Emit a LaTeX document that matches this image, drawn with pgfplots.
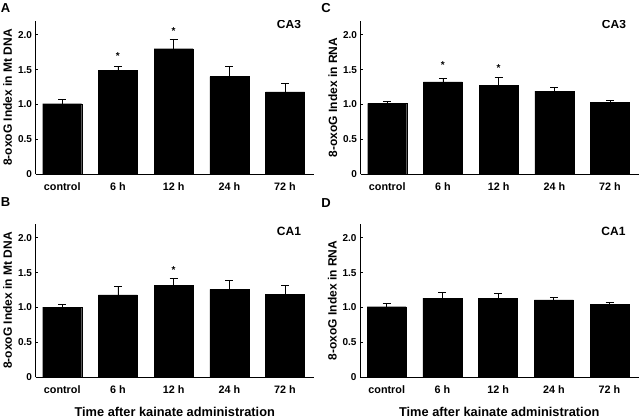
\documentclass[border=0pt]{standalone}
\usepackage{fontspec}
\setmainfont{Liberation Sans}
\usepackage{pgfplots}
\pgfplotsset{compat=1.18}

\newcommand{\tf}{\bfseries\fontsize{10bp}{12bp}\selectfont}
\newcommand{\xf}{\bfseries\fontsize{10.8bp}{12bp}\selectfont}
\newcommand{\lf}{\bfseries\fontsize{12bp}{14bp}\selectfont}

\pgfplotsset{
  panel/.style={
    anchor=south west,
    scale only axis,
    width=278.5bp, height=153.1bp,
    xmin=-0.48, xmax=4.52,
    ymin=0, ymax=2.2,
    axis x line*=bottom, axis y line*=left,
    axis line style={line width=0.8bp},
    every tick/.style={black, line width=0.8bp},
    tick align=inside,
    xtick={0,1,2,3,4},
    xticklabels={control,6 h,12 h,24 h,72 h},
    x tick style={draw=none},
    extra x ticks={0.5,1.5,2.5,3.5},
    extra x tick labels={},
    extra x tick style={major tick length=3bp, tick style={draw=black}},
    ytick={0,0.5,1,1.5,2},
    yticklabels={0,0.5,1.0,1.5,2.0},
    major tick length=2.5bp,
    /pgf/number format/assume math mode=true,
    yticklabel style={font=\tf},
    xticklabel style={font=\xf, yshift=-2.5bp},
    ylabel style={at={(axis description cs:-0.0998,0.5)}, anchor=center, font=\lf},
    xlabel style={at={(axis description cs:0.5,0)}, anchor=center, yshift=-34.7bp,
                  font=\bfseries\fontsize{12.8bp}{14bp}\selectfont},
    ybar, bar width=39bp,
  },
  bars/.style={
    fill=black, draw=black,
    error bars/.cd, y dir=plus, y explicit,
    error bar style={line width=0.8bp, black},
    error mark options={rotate=90, mark size=4bp, line width=0.8bp, black},
  },
}

\begin{document}
\begin{tikzpicture}
\useasboundingbox (0,0) rectangle (640bp,418bp);

% A: CA3, Mt DNA
\begin{axis}[panel, at={(35.5bp,244bp)}, ylabel={8-oxoG Index in Mt DNA}]
\addplot[bars] coordinates {
  (0,1.01) +- (0,0.06)
  (1,1.485) +- (0,0.055)
  (2,1.80) +- (0,0.14)
  (3,1.40) +- (0,0.15)
  (4,1.18) +- (0,0.12)
};
\node[font=\tf] at (axis cs:1,1.70) {*};
\node[font=\tf] at (axis cs:2,2.06) {*};
\node[font=\bfseries\fontsize{12bp}{14bp}\selectfont] at (axis cs:4.07,2.155) {CA3};
\end{axis}

% C: CA3, RNA
\begin{axis}[panel, at={(360.5bp,244bp)}, ylabel={8-oxoG Index in RNA}]
\addplot[bars] coordinates {
  (0,1.015) +- (0,0.035)
  (1,1.325) +- (0,0.045)
  (2,1.27) +- (0,0.12)
  (3,1.19) +- (0,0.06)
  (4,1.03) +- (0,0.03)
};
\node[font=\tf] at (axis cs:1,1.57) {*};
\node[font=\tf] at (axis cs:2,1.52) {*};
\node[font=\bfseries\fontsize{12bp}{14bp}\selectfont] at (axis cs:4.07,2.15) {CA3};
\end{axis}

% B: CA1, Mt DNA
\begin{axis}[panel, at={(35.5bp,41bp)}, ylabel={8-oxoG Index in Mt DNA},
  xlabel={Time after kainate administration}]
\addplot[bars] coordinates {
  (0,1.005) +- (0,0.035)
  (1,1.18) +- (0,0.12)
  (2,1.32) +- (0,0.09)
  (3,1.26) +- (0,0.13)
  (4,1.19) +- (0,0.12)
};
\node[font=\tf] at (axis cs:2,1.54) {*};
\node[font=\bfseries\fontsize{12bp}{14bp}\selectfont] at (axis cs:4.07,2.09) {CA1};
\end{axis}

% D: CA1, RNA
\begin{axis}[panel, at={(360bp,41bp)}, ylabel={8-oxoG Index in RNA},
  xlabel={Time after kainate administration}]
\addplot[bars] coordinates {
  (0,1.01) +- (0,0.05)
  (1,1.135) +- (0,0.075)
  (2,1.135) +- (0,0.065)
  (3,1.11) +- (0,0.03)
  (4,1.04) +- (0,0.025)
};
\node[font=\bfseries\fontsize{12bp}{14bp}\selectfont] at (axis cs:4.07,2.09) {CA1};
\end{axis}

% panel letters
\begin{scope}[every node/.style={font=\bfseries\fontsize{13bp}{15bp}\selectfont}]
\node at (5.5bp,409.7bp) {A};
\node at (5.5bp,216bp) {B};
\node at (326bp,409.5bp) {C};
\node at (326bp,215bp) {D};
\end{scope}
\end{tikzpicture}
\end{document}
